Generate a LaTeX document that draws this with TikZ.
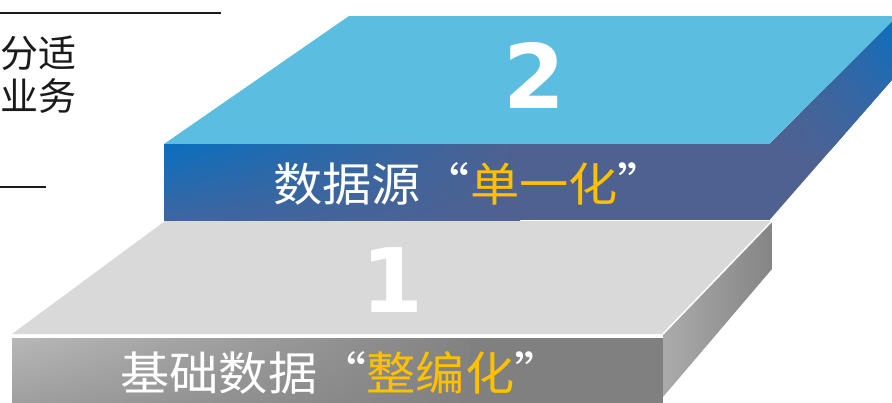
\documentclass[tikz,border=0pt]{standalone}
\usepackage{fontspec}
\usetikzlibrary{shadings}
\newfontfamily\cjk{Noto Sans CJK SC}
\newfontfamily\cjkwide{Noto Sans CJK SC}[FakeStretch=1.07]
\newfontfamily\digitfont{DejaVu Sans}
\definecolor{topblue}{HTML}{5BBDE0}
\definecolor{deepblue}{HTML}{0A6FBF}
\definecolor{slate}{HTML}{4F6190}
\definecolor{midslate}{HTML}{3F65A0}
\definecolor{topgray}{HTML}{D9D9D9}
\definecolor{gold}{HTML}{FFC000}
\definecolor{inkdark}{HTML}{1A1A1A}
\tikzset{
  slabtext/.style={text=white, inner sep=0pt, font=\cjkwide\fontsize{46}{46}\selectfont},
  digit/.style={text=white, inner sep=0pt, font=\digitfont\bfseries\fontsize{89}{89}\selectfont},
  sidetext/.style={text=inkdark, inner sep=0pt, font=\cjk\fontsize{38}{38}\selectfont},
  rule/.style={draw=inkdark, line width=2pt},
}
\begin{document}
\begin{tikzpicture}[x=1pt,y=-1pt]
\useasboundingbox (0,0) rectangle (892,402);
\begin{scope}
\clip (0,0) rectangle (892,402);
% ---------- slab 1 ----------
% top face
\fill[topgray] (12,334) -- (165,221) -- (772,221) -- (663,334) -- cycle;
% front face
\begin{scope}
\clip (12,338) rectangle (663,405);
\fill[black!50] (12,338) rectangle (663,405);
\shade[upper left=black!28, lower left=black!38, upper right=black!49, lower right=black!50] (12,338) rectangle (470,405);
\end{scope}
% side face
\begin{scope}
\clip (663,334) -- (772,221) -- (772,269) -- (663,397) -- cycle;
\shade[left color=black!33, right color=black!48] (663,221) rectangle (772,402);
\end{scope}
\draw[white, line width=1.5pt] (663,334) -- (772,221);
% ---------- slab 2 ----------
% top face
\fill[topblue] (164,144) -- (349,16) -- (898,16) -- (769,144) -- cycle;
% front face
\begin{scope}
\clip (164,144) rectangle (770,220);
\fill[slate] (164,144) rectangle (770,220);
\shade[upper left=deepblue, lower left=midslate, upper right=slate, lower right=slate] (164,144) rectangle (520,220);
\end{scope}
% side face
\begin{scope}
\clip (769.5,144) -- (898,16) -- (898,73) -- (769.5,220) -- cycle;
\fill[slate] (769,16) rectangle (898,220);
\shade[upper right=deepblue, upper left=slate, lower right=midslate, lower left=slate] (769,16) rectangle (893,150);
\end{scope}
\end{scope}
% ---------- texts ----------
\node[digit, anchor=base] (d2) at (534,108) {2};
\node[digit, anchor=base] (d1) at (392,312) {1};
\node[slabtext, anchor=base] (t2) at (470,201) {数据源“\textcolor{gold}{单一化}”};
\node[slabtext, anchor=base] (t1) at (342,390) {基础数据“\textcolor{gold}{整编化}”};
\node[sidetext, anchor=base west] (s1) at (0,67) {分适};
\node[sidetext, anchor=base west] (s2) at (0,110) {业务};
% ---------- rules ----------
\coordinate (r1a) at (0,13);
\coordinate (r1b) at (221,13);
\coordinate (r2a) at (0,187);
\coordinate (r2b) at (46,187);
\draw[rule] (r1a) -- (r1b);
\draw[rule] (r2a) -- (r2b);
\end{tikzpicture}
\end{document}
